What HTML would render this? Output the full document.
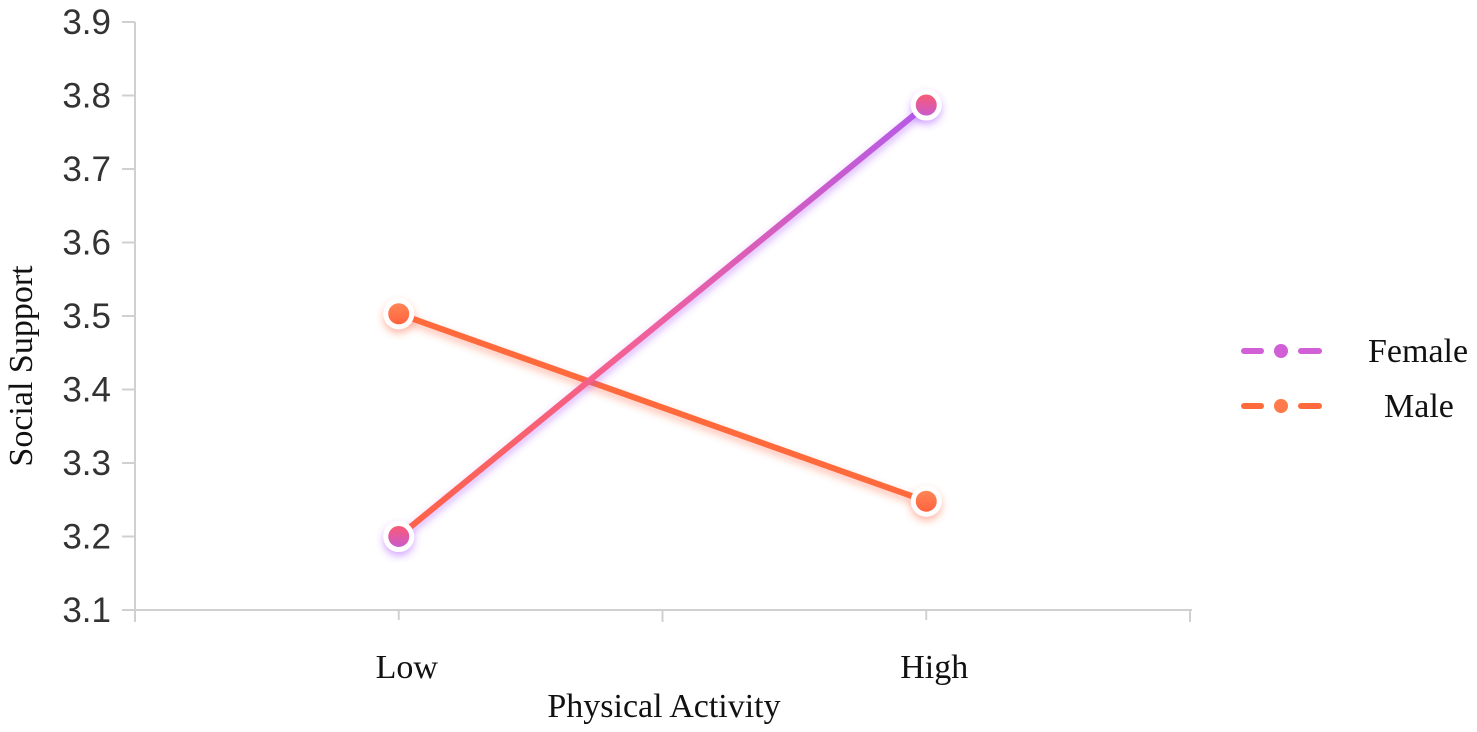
<!DOCTYPE html>
<html><head><meta charset="utf-8"><style>
html,body{margin:0;padding:0;background:#fff;width:1477px;height:732px;overflow:hidden}
svg{display:block}
</style></head><body>
<svg id="chart" width="1477" height="732">
<defs>
<linearGradient id="fgrad" x1="0" y1="1" x2="0" y2="0">
<stop offset="0" stop-color="#ff6340"/><stop offset="0.45" stop-color="#f2609a"/><stop offset="1" stop-color="#b45ae8"/>
</linearGradient>
<linearGradient id="fmark" x1="0" y1="0" x2="0" y2="1">
<stop offset="0" stop-color="#ff5a6a"/><stop offset="1" stop-color="#c45ad8"/>
</linearGradient>
<linearGradient id="mmark" x1="0" y1="0" x2="0" y2="1">
<stop offset="0" stop-color="#ff8a5a"/><stop offset="1" stop-color="#ff5e3a"/>
</linearGradient>
<filter id="fshadow" x="-50%" y="-50%" width="200%" height="200%"><feDropShadow dx="0" dy="4" stdDeviation="4" flood-color="#a040ff" flood-opacity="0.45"/></filter>
<filter id="mshadow" x="-50%" y="-50%" width="200%" height="200%"><feDropShadow dx="0" dy="4" stdDeviation="4" flood-color="#ff5020" flood-opacity="0.4"/></filter>
</defs>
<g id="axes"></g>
<g id="series"></g>
<g id="legend">
<g>
<line x1="1244" y1="351" x2="1261" y2="351" stroke="#d15fd6" stroke-width="6" stroke-linecap="round"/>
<circle cx="1281" cy="351" r="7" fill="#d15fd6"/>
<line x1="1301" y1="351" x2="1319" y2="351" stroke="#d15fd6" stroke-width="6" stroke-linecap="round"/>
<text x="1368" y="362" font-family="Liberation Serif, serif" font-size="34" fill="#111">Female</text>
</g>
<g>
<line x1="1244" y1="406" x2="1261" y2="406" stroke="#ff6a3d" stroke-width="6" stroke-linecap="round"/>
<circle cx="1281" cy="406" r="7" fill="#ff7a4a"/>
<line x1="1301" y1="406" x2="1319" y2="406" stroke="#ff6a3d" stroke-width="6" stroke-linecap="round"/>
<text x="1384" y="417" font-family="Liberation Serif, serif" font-size="34" fill="#111">Male</text>
</g>
</g>
<text x="32" y="366" transform="rotate(-90 32 366)" text-anchor="middle" font-family="Liberation Serif, serif" font-size="34" fill="#111">Social Support</text>
<text x="664" y="717" text-anchor="middle" font-family="Liberation Serif, serif" font-size="34" fill="#111">Physical Activity</text>
</svg>
<script>
const categories = ["Low", "High"];
const femaleValues = [3.2, 3.787];
const maleValues = [3.503, 3.248];
const yTicks = [3.1, 3.2, 3.3, 3.4, 3.5, 3.6, 3.7, 3.8, 3.9];
const yTickLabels = ["3.1","3.2","3.3","3.4","3.5","3.6","3.7","3.8","3.9"];

const NS = "http://www.w3.org/2000/svg";
const plotL = 135, plotR = 1190, yMin = 3.1, yMax = 3.9, pyBottom = 610, pyTop = 22;
function yScale(v){ return pyBottom - (v - yMin) / (yMax - yMin) * (pyBottom - pyTop); }
const band = (plotR - plotL) / categories.length;
function xScale(i){ return plotL + band * (i + 0.5); }
function mk(tag, attrs, parent){ const e = document.createElementNS(NS, tag); for (const k in attrs) e.setAttribute(k, attrs[k]); parent.appendChild(e); return e; }

const axes = document.getElementById("axes");
let yAxis = mk("line", {x1: plotL, y1: pyTop, x2: plotL, y2: pyBottom + 12, stroke: "#d0d0d0", "stroke-width": 2}, axes);


let xAxis = mk("line", {x1: plotL - 13, y1: pyBottom, x2: plotR + 2, y2: pyBottom, stroke: "#d0d0d0", "stroke-width": 2}, axes);


yTicks.forEach((t, i) => {
  const y = yScale(t);
  mk("line", {x1: plotL - 13, y1: y, x2: plotL, y2: y, stroke: "#d0d0d0", "stroke-width": 2}, axes);
  const tx = mk("text", {x: 111, y: y + 12, "text-anchor": "end", "font-family": "Liberation Sans, sans-serif", "font-size": 35, fill: "#333"}, axes);
  tx.textContent = yTickLabels[i];
  
  
});
for (let i = 0; i <= categories.length; i++) {
  const x = plotL + band * i;
  mk("line", {x1: x, y1: pyBottom, x2: x, y2: pyBottom + 12, stroke: "#d0d0d0", "stroke-width": 2}, axes);
}
categories.forEach((c, i) => {
  const x = xScale(i);
  mk("line", {x1: x, y1: pyBottom, x2: x, y2: pyBottom + 10, stroke: "#d0d0d0", "stroke-width": 2}, axes);
  const tx = mk("text", {x: x + 8, y: 678, "text-anchor": "middle", "font-family": "Liberation Serif, serif", "font-size": 34, fill: "#111"}, axes);
  tx.textContent = c;
  
  
});

const series = document.getElementById("series");
function drawSeries(vals, stroke, fill, filt, name){
  const g = mk("g", {}, series);
  
  
  const pts = vals.map((v, i) => xScale(i) + "," + yScale(v)).join(" ");
  const pl = mk("polyline", {points: pts, fill: "none", stroke: stroke, "stroke-width": 6, filter: filt}, g);
  
  
  vals.forEach((v, i) => {
    const c = mk("circle", {cx: xScale(i), cy: yScale(v), r: 13, fill: fill, stroke: "#fff", "stroke-width": 5, filter: filt}, g);
    
    
  });
}
drawSeries(maleValues, "#ff6a3d", "url(#mmark)", "url(#mshadow)", "male");
drawSeries(femaleValues, "url(#fgrad)", "url(#fmark)", "url(#fshadow)", "female");
</script>
</body></html>
